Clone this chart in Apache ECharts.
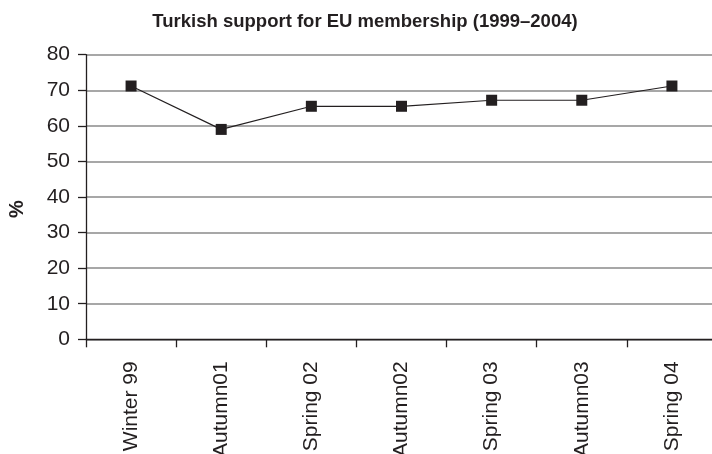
<!DOCTYPE html>
<html><head><meta charset="utf-8">
<script src="https://cdn.jsdelivr.net/npm/echarts@6/dist/echarts.min.js"></script>
<style>html,body{margin:0;padding:0;background:#fff}#c{width:712px;height:454px}</style>
</head><body><div id="c"></div>
<script>
var categories = ['Winter 99','Autumn01','Spring 02','Autumn02','Spring 03','Autumn03','Spring 04'];
var support = [71.2, 59, 65.5, 65.5, 67.2, 67.2, 71.2];
var yTicks = [0, 10, 20, 30, 40, 50, 60, 70, 80];
var chart = echarts.init(document.getElementById('c'));
chart.setOption({
  animation: false,
  title: {text: 'Turkish support for EU membership (1999\u20132004)', left: 360, top: 7, textAlign: 'center',
    textStyle: {fontFamily: 'Liberation Sans', fontWeight: 'bold', fontSize: 18.5, color: '#231f20'}},
  grid: {left: 86, top: 54.7, width: 631, height: 284.6, outerBoundsMode: 'none', containLabel: false},
  xAxis: {type: 'category', data: categories, boundaryGap: true,
    axisLine: {lineStyle: {color: '#231f20', width: 1.3}},
    axisTick: {show: true, length: 8, lineStyle: {color: '#231f20', width: 1.3}},
    axisLabel: {rotate: 90, margin: 22, fontFamily: 'Liberation Sans', fontSize: 21, color: '#231f20'}},
  yAxis: {type: 'value', min: yTicks[0], max: yTicks[yTicks.length-1], interval: 10,
    name: '%', nameLocation: 'middle', nameGap: 59, nameRotate: 90,
    nameTextStyle: {fontFamily: 'Liberation Sans', fontWeight: 'bold', fontSize: 20, color: '#231f20', padding: [0, 24, 0, 0]},
    axisLine: {show: true, lineStyle: {color: '#231f20', width: 1.3}},
    axisTick: {show: true, length: 8, lineStyle: {color: '#231f20', width: 1.3}},
    axisLabel: {margin: 16, fontFamily: 'Liberation Sans', fontSize: 21, color: '#231f20'},
    splitLine: {lineStyle: {color: '#8a8a8a', width: 1.5}}},
  series: [{type: 'line', data: support, symbol: 'rect', symbolSize: 11,
    itemStyle: {color: '#231f20'}, lineStyle: {color: '#231f20', width: 1.2}}]
});
</script></body></html>
